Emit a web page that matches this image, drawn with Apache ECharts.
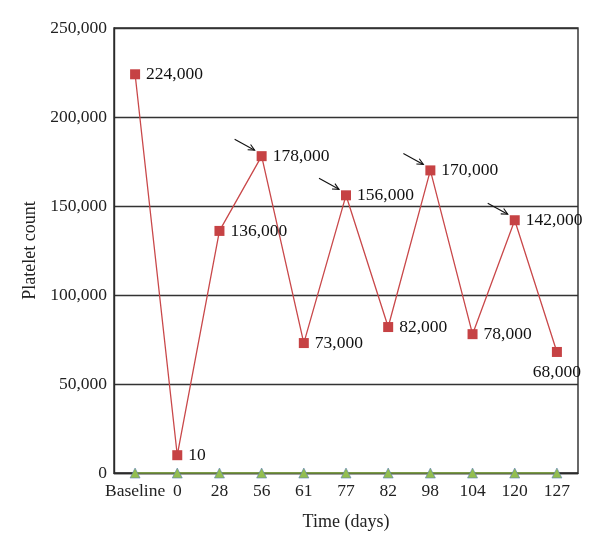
<!DOCTYPE html>
<html><head><meta charset="utf-8">
<script src="https://cdn.jsdelivr.net/npm/echarts@6/dist/echarts.min.js"></script>
<style>html,body{margin:0;padding:0;background:#fff}#c{width:600px;height:550px}</style>
</head><body><div id="c"></div>
<script>
const categories = ['Baseline','0','28','56','61','77','82','98','104','120','127'];
const plateletValues = [224000, 10000, 136000, 178000, 73000, 156000, 82000, 170000, 78000, 142000, 68000];
const plateletLabels = ['224,000','10','136,000','178,000','73,000','156,000','82,000','170,000','78,000','142,000','68,000'];
const baselineValues = [0,0,0,0,0,0,0,0,0,0,0];
const arrowIndices = [3,5,7,9];
const yTicks = [0,50000,100000,150000,200000,250000];

const FONT = 'Liberation Serif';
const chart = echarts.init(document.getElementById('c'));
const labelPos = plateletValues.map((v,i)=> i===10 ? 'bottom' : 'right');
chart.setOption({
  animation:false,
  backgroundColor:'#fff',
  grid:{left:114,right:22,top:28,bottom:77,show:true,borderColor:'#2a2a2a',borderWidth:1.4},
  xAxis:{type:'category',data:categories,boundaryGap:true,
    name:'Time (days)',nameLocation:'middle',nameGap:40,
    nameTextStyle:{fontFamily:FONT,fontSize:18,color:'#222'},
    axisLine:{lineStyle:{color:'#2a2a2a',width:1.4}},axisTick:{show:false},
    axisLabel:{fontFamily:FONT,fontSize:17.5,color:'#222',margin:9,interval:0}},
  yAxis:{type:'value',min:0,max:250000,interval:50000,
    name:'Platelet count',nameLocation:'middle',nameGap:72,
    nameTextStyle:{fontFamily:FONT,fontSize:18,color:'#222'},
    axisLine:{show:true,lineStyle:{color:'#2a2a2a',width:1.4}},axisTick:{show:false},
    splitLine:{lineStyle:{color:'#333',width:1.4}},
    axisLabel:{fontFamily:FONT,fontSize:17.5,color:'#222',margin:7,
      formatter:v=>v.toLocaleString('en-US')}},
  series:[
    {type:'line',data:baselineValues,symbol:'triangle',symbolSize:10,z:3,
      lineStyle:{color:'#8fb84a',width:1.5},
      itemStyle:{color:'#93be4f',borderColor:'#5b7fb5',borderWidth:0.6}},
    {type:'line',data:plateletValues.map((v,i)=>({value:v,label:{position:labelPos[i]}})),
      symbol:'rect',symbolSize:10,z:4,
      lineStyle:{color:'#c9484a',width:1.3},
      itemStyle:{color:'#c64244'},
      label:{show:true,fontFamily:FONT,fontSize:17.5,color:'#111',distance:6,
        formatter:p=>plateletLabels[p.dataIndex]}},
    {type:'custom',z:5,data:arrowIndices.map(i=>[i,plateletValues[i]]),
      renderItem:(params,api)=>{
        const p = api.coord([api.value(0),api.value(1)]);
        const tx=p[0]-7, ty=p[1]-6;
        const sx=p[0]-27, sy=p[1]-17;
        const ang=Math.atan2(ty-sy,tx-sx);
        const L=7, w=0.45;
        const a1=[tx-L*Math.cos(ang-w), ty-L*Math.sin(ang-w)];
        const a2=[tx-L*Math.cos(ang+w), ty-L*Math.sin(ang+w)];
        return {type:'group',children:[
          {type:'line',shape:{x1:sx,y1:sy,x2:tx,y2:ty},style:{stroke:'#111',lineWidth:1.1}},
          {type:'polyline',shape:{points:[a1,[tx,ty],a2]},style:{stroke:'#111',lineWidth:1.1,fill:null}}
        ]};
      }}
  ]
});
</script></body></html>
